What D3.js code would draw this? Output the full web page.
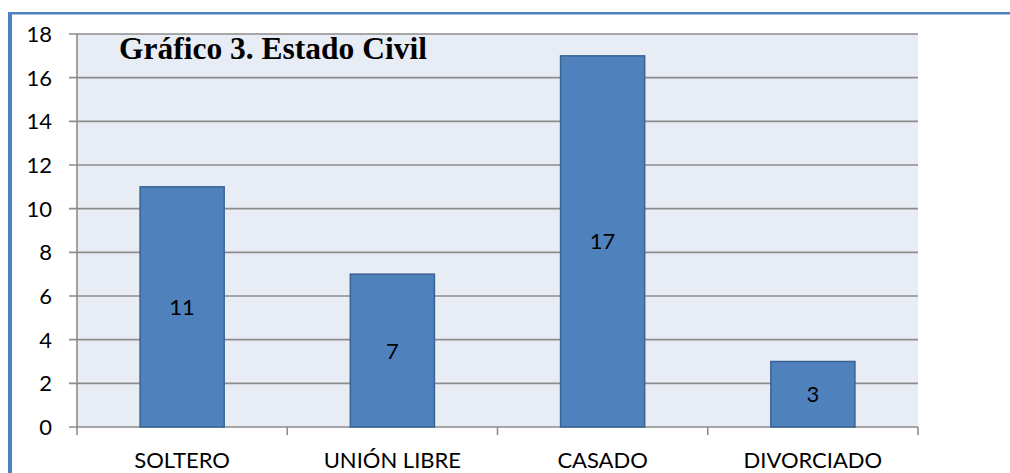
<!DOCTYPE html>
<html><head><meta charset="utf-8">
<script src="https://cdn.jsdelivr.net/npm/d3@7/dist/d3.min.js"></script>
<style>body{margin:0;background:#fff}svg{display:block}</style>
</head><body>
<script>
const categories = ["SOLTERO", "UNIÓN LIBRE", "CASADO", "DIVORCIADO"];
const values = [11, 7, 17, 3];
const yTicks = [0, 2, 4, 6, 8, 10, 12, 14, 16, 18];
const title = "Gráfico 3. Estado Civil";

const W = 1010, H = 473;
const svg = d3.select("body").append("svg").attr("width", W).attr("height", H);

// frame
svg.append("rect").attr("x", 8).attr("y", 12).attr("width", 4).attr("height", H).attr("fill", "#4f81bd");
svg.append("rect").attr("x", 8).attr("y", 12).attr("width", W).attr("height", 2.5).attr("fill", "#4f81bd");

const L = 77, R = 918, T = 34, B = 427;
const x = d3.scaleBand().domain(categories).range([L, R]).paddingInner(0.6).paddingOuter(0.3);
const xb = d3.scaleBand().domain(categories).range([L, R]);
const y = d3.scaleLinear().domain([0, 18]).range([B, T]);
const FONT = "Lato, 'Open Sans', sans-serif";

svg.append("rect").attr("x", L).attr("y", T).attr("width", R - L).attr("height", B - T).attr("fill", "#e8ecf4");

// gridlines
svg.append("g").selectAll("line").data(yTicks).join("line")
  .attr("x1", 69).attr("x2", R).attr("y1", d => y(d)).attr("y2", d => y(d))
  .attr("stroke", "#8c8c8c").attr("stroke-width", 1.6);

// y axis line
svg.append("line").attr("x1", L).attr("x2", L).attr("y1", T).attr("y2", B).attr("stroke", "#8c8c8c").attr("stroke-width", 1.6);

// x tick marks
const bounds = categories.map(c => xb(c)).concat([R]);
svg.append("g").selectAll("line").data(bounds).join("line")
  .attr("x1", d => d).attr("x2", d => d).attr("y1", B).attr("y2", B + 8)
  .attr("stroke", "#8c8c8c").attr("stroke-width", 1.6);

// y labels
svg.append("g").selectAll("text").data(yTicks).join("text")
  .attr("x", 52).attr("y", d => y(d) + 8).attr("text-anchor", "end")
  .attr("font-family", FONT).attr("font-size", 22).attr("fill", "#000")
  .text(d => d);

// bars
svg.append("g").selectAll("rect").data(values).join("rect")
  .attr("x", (d, i) => x(categories[i]))
  .attr("width", x.bandwidth())
  .attr("y", d => y(d))
  .attr("height", d => B - y(d))
  .attr("fill", "#4f81bd").attr("stroke", "#3a6394").attr("stroke-width", 1.5);

// value labels
svg.append("g").selectAll("text").data(values).join("text")
  .attr("x", (d, i) => x(categories[i]) + x.bandwidth() / 2)
  .attr("y", d => (y(d) + B) / 2 + 8)
  .attr("text-anchor", "middle")
  .attr("font-family", FONT).attr("font-size", 22).attr("fill", "#000")
  .text(d => d);

// x labels
svg.append("g").selectAll("text").data(categories).join("text")
  .attr("x", d => xb(d) + xb.bandwidth() / 2)
  .attr("y", 468).attr("text-anchor", "middle")
  .attr("font-family", FONT).attr("font-size", 22).attr("fill", "#000")
  .text(d => d);

// title
svg.append("text").attr("x", 119).attr("y", 59)
  .attr("font-family", "'Liberation Serif', 'Times New Roman', serif").attr("font-weight", "bold")
  .attr("font-size", 31.5).attr("fill", "#000").text(title);
</script>
</body></html>
